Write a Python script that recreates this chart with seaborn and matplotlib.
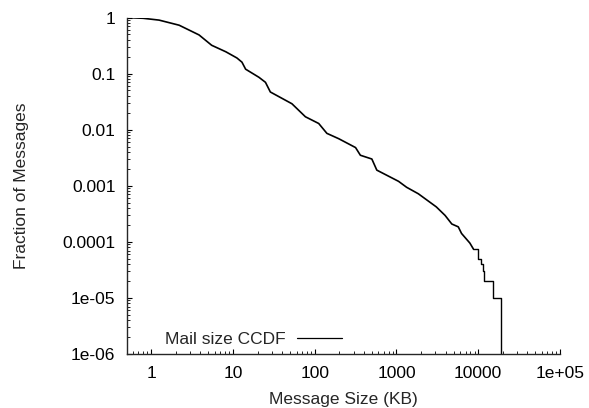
#!/usr/bin/env python3
"""
Mail size CCDF (log-log), gnuplot look.
Outputs: out.png
"""
import pandas as pd
import matplotlib
matplotlib.use("Agg")
import matplotlib.pyplot as plt
import seaborn as sns
from matplotlib.ticker import LogLocator, NullFormatter

# CCDF (smooth body)
size_kb = [0.5, 0.8, 1.25, 2.2, 3.85, 5.5, 8.2, 11.2, 12.9, 14.3, 20.8, 25.0,
           28.7, 52.7, 77.0, 112.0, 141.0, 197.0, 316.0, 362.0, 500.0, 575.0,
           1060.0, 1330.0, 1850.0, 3070.0, 3930.0, 4750.0, 5700.0, 6250.0,
           7900.0, 8700.0]
frac = [1.0, 0.97, 0.90, 0.73, 0.49, 0.32, 0.245, 0.19, 0.16, 0.12, 0.086, 0.07,
        0.047, 0.029, 0.017, 0.0129, 0.0086, 0.0069, 0.0048, 0.0035, 0.0030, 0.0019,
        0.0012, 0.00094, 0.00072, 0.00042, 0.000296, 0.000208, 0.000185, 0.000141,
        9.5e-5, 7.5e-5]

# sparse tail, drawn as steps (last one drops to zero)
tail_kb = [8700.0, 10000.0, 10900.0, 11500.0, 11900.0, 15200.0, 19000.0]
tail_frac = [7.5e-5, 5e-5, 4e-5, 3e-5, 2e-5, 1e-5, 1e-8]

x_ticks = [1, 10, 100, 1000, 10000, 100000]
x_labels = ["1", "10", "100", "1000", "10000", "1e+05"]
y_ticks = [1e-6, 1e-5, 1e-4, 1e-3, 1e-2, 1e-1, 1]
y_labels = ["1e-06", "1e-05", "0.0001", "0.001", "0.01", "0.1", "1"]

sns.set_theme(style="ticks")
plt.rcParams.update({
    "font.family": ["Liberation Sans", "DejaVu Sans"],
    "font.size": 12.5,
    "axes.linewidth": 1.0,
})


def main():
    body = pd.DataFrame({"size": size_kb, "frac": frac})
    tail = pd.DataFrame({"size": tail_kb, "frac": tail_frac})

    fig = plt.figure(figsize=(5.89, 4.08), dpi=100)
    ax = fig.add_axes([0.2148, 0.1324, 0.736, 0.8246])

    sns.lineplot(data=body, x="size", y="frac", ax=ax, color="black",
                 linewidth=1.2, label="Mail size CCDF")
    sns.lineplot(data=tail, x="size", y="frac", ax=ax, color="black",
                 linewidth=1.0, drawstyle="steps-post", label=None)

    ax.set_xscale("log")
    ax.set_yscale("log")
    ax.set_xlim(0.5, 1e5)
    ax.set_ylim(1e-6, 1)

    ax.set_xticks(x_ticks, x_labels)
    ax.set_yticks(y_ticks, y_labels)
    ax.xaxis.set_minor_locator(LogLocator(base=10, subs=range(2, 10)))
    ax.yaxis.set_minor_locator(LogLocator(base=10, subs=range(2, 10)))
    ax.xaxis.set_minor_formatter(NullFormatter())
    ax.yaxis.set_minor_formatter(NullFormatter())

    ax.tick_params(which="major", direction="in", length=3.5, width=0.8,
                   colors="black", labelsize=12.5)
    ax.tick_params(which="minor", direction="in", length=2, width=0.6,
                   colors="black")
    ax.tick_params(axis="x", which="major", pad=9)
    ax.tick_params(axis="y", which="major", pad=8)

    sns.despine(ax=ax)

    ax.set_xlabel("Message Size (KB)", fontsize=12.5)
    ax.set_ylabel("Fraction of Messages", fontsize=12.5)
    ax.xaxis.set_label_coords(0.5, -0.112)
    ax.yaxis.set_label_coords(-0.225, 0.5)

    leg = ax.legend(loc="center", bbox_to_anchor=(0.293, 0.042), frameon=False,
                    markerfirst=False, handlelength=2.6, handletextpad=0.7,
                    fontsize=12.5, borderpad=0.2)
    for line in leg.get_lines():
        line.set_linewidth(0.9)

    fig.savefig("out.png", dpi=100)
    plt.close(fig)


if __name__ == "__main__":
    main()
